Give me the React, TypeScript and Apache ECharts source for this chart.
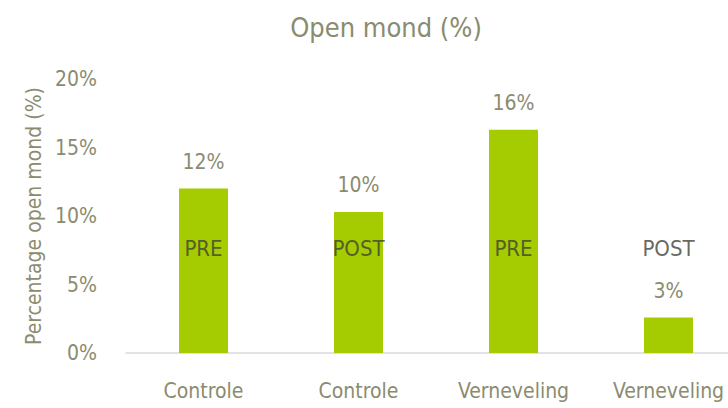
import React, { useEffect, useRef } from "react";
import * as echarts from "echarts";

const categories = ["Controle", "Controle", "Verneveling", "Verneveling"];
const values = [12.0, 10.3, 16.3, 2.6];
const valueLabels = ["12%", "10%", "16%", "3%"];
const phaseLabels = ["PRE", "POST", "PRE", "POST"];
const phaseLevel = [7.6, 7.6, 7.6, 7.6];
const yTicks = [0, 5, 10, 15, 20];

const FONT = "'DejaVu Sans Condensed', 'Liberation Sans', sans-serif";
const OLIVE = "#8b8b6e";
const DARK = "#404035";
const GREEN = "#a5cc00";

export default function App() {
  const ref = useRef<HTMLDivElement>(null);
  useEffect(() => {
    if (!ref.current) return;
    const chart = echarts.init(ref.current, undefined, { renderer: "svg" });
    chart.setOption({
      animation: false,
      backgroundColor: "#ffffff",
      textStyle: { fontFamily: FONT },
      title: {
        text: "Open mond (%)",
        left: 381,
        top: 9,
        textAlign: "center",
        textStyle: { fontFamily: FONT, fontSize: 27, fontWeight: "normal", color: OLIVE },
      },
      grid: { left: 126, right: 0, top: 79, bottom: 55, containLabel: false },
      xAxis: {
        type: "category",
        data: categories,
        axisLine: { lineStyle: { color: "#d9d9d9", width: 1.5 } },
        axisTick: { show: false },
        axisLabel: { interval: 0, fontFamily: FONT, fontSize: 21, color: OLIVE, margin: 27 },
      },
      yAxis: {
        type: "value",
        min: yTicks[0],
        max: yTicks[yTicks.length - 1],
        interval: 5,
        name: "Percentage open mond (%)",
        nameLocation: "middle",
        nameRotate: 90,
        nameGap: 65,
        nameTextStyle: { fontFamily: FONT, fontSize: 21, color: OLIVE },
        axisLine: { show: false },
        axisTick: { show: false },
        splitLine: { show: false },
        axisLabel: { fontFamily: FONT, fontSize: 21, color: OLIVE, margin: 29, formatter: "{value}%" },
      },
      series: [
        {
          type: "bar",
          data: values,
          barWidth: 49,
          itemStyle: { color: GREEN },
          label: {
            show: true,
            position: "top",
            distance: 16,
            fontFamily: FONT,
            fontSize: 21,
            color: OLIVE,
            formatter: (p: any) => valueLabels[p.dataIndex],
          },
        },
        {
          type: "scatter",
          data: phaseLevel,
          symbolSize: 0,
          silent: true,
          z: 5,
          label: {
            show: true,
            position: "inside",
            fontFamily: FONT,
            fontSize: 22,
            color: DARK,
            formatter: (p: any) => phaseLabels[p.dataIndex],
          },
        },
      ],
    });
    return () => chart.dispose();
  }, []);
  return (
    <div style={{ position: "fixed", left: 0, top: 0, width: 728, height: 408, overflow: "hidden" }}>
      <div ref={ref} style={{ width: 746, height: 408 }} />
    </div>
  );
}
